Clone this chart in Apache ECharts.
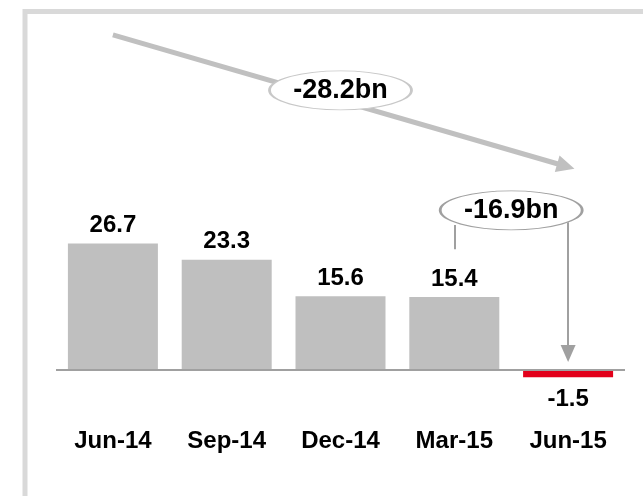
<!DOCTYPE html>
<html>
<head>
    <meta charset="utf-8" />
    <title>Change chart</title>
    <script src="https://cdn.jsdelivr.net/npm/echarts@6/dist/echarts.min.js"></script>
</head>
<body style="margin:0;background:#fff;">
    <div id="main" style="width:643px;height:496px;"></div>
    <script type="text/javascript">
        var categories = ['Jun-14', 'Sep-14', 'Dec-14', 'Mar-15', 'Jun-15'];
        var values = [26.7, 23.3, 15.6, 15.4, -1.5];

        // callout ellipses, placed in value space (x = category index)
        var calloutX = [2, 3.5];
        var calloutY = [59, 33.7];
        var calloutFrom = [0, 3];
        var calloutTo = [4, 4];

        // arrow / connector lines in value space
        var bigArrow = [[0, 70.7], [3.98, 43.0]];
        var stemLeft = [[3, 30.6], [3, 25.5]];
        var stemRight = [[4, 31.2], [4, 3.5]];

        var fontFamily = '"Liberation Sans", Arial, sans-serif';
        var grey = '#bfbfbf';
        var red = '#e2001a';

        var myChart = echarts.init(document.getElementById('main'));

        var barData = values.map(function (v) {
            return {
                value: v,
                itemStyle: { color: v < 0 ? red : grey },
                label: { position: v < 0 ? 'bottom' : 'top', distance: v < 0 ? 10 : 6 }
            };
        });

        var calloutData = calloutX.map(function (x, i) {
            var diff = values[calloutTo[i]] - values[calloutFrom[i]];
            return {
                value: [x, calloutY[i]],
                name: diff.toFixed(1) + 'bn',
                itemStyle: { borderColor: i === 0 ? '#c8c8c8' : '#a0a0a0' }
            };
        });

        var option = {
            animation: false,
            backgroundColor: '#fff',
            graphic: [{
                type: 'rect',
                z: -10,
                shape: { x: 25, y: 11.5, width: 700, height: 600 },
                style: { fill: 'none', stroke: '#d9d9d9', lineWidth: 5 }
            }],
            grid: {
                left: 56,
                right: 18,
                top: 14.5,
                bottom: 69,
                outerBoundsMode: 'none'
            },
            xAxis: [
                {
                    type: 'category',
                    data: categories,
                    axisLine: { show: false, onZero: false },
                    axisTick: { show: false },
                    axisLabel: {
                        margin: 2,
                        color: '#000',
                        fontSize: 24,
                        fontWeight: 'bold',
                        fontFamily: fontFamily
                    },
                    splitLine: { show: false }
                },
                {
                    type: 'value',
                    min: -0.5,
                    max: 4.5,
                    show: false
                }
            ],
            yAxis: {
                type: 'value',
                min: -12,
                max: 75,
                show: false,
                splitLine: { show: false }
            },
            series: [
                {
                    name: 'Value',
                    type: 'bar',
                    barWidth: 90,
                    data: barData,
                    label: {
                        show: true,
                        color: '#000',
                        fontSize: 24,
                        fontWeight: 'bold',
                        fontFamily: fontFamily
                    },
                    emphasis: { disabled: true },
                    markLine: {
                        silent: true,
                        symbol: 'none',
                        label: { show: false },
                        lineStyle: { color: '#a0a0a0', width: 2, type: 'solid' },
                        data: [{ yAxis: 0 }]
                    }
                },
                {
                    name: 'Change',
                    type: 'scatter',
                    xAxisIndex: 1,
                    z: 10,
                    symbol: 'path://M0,20 A70,20 0 1,1 140,20 A70,20 0 1,1 0,20 Z',
                    symbolSize: [142, 39],
                    itemStyle: { color: '#fff', borderWidth: 1.5, opacity: 1 },
                    label: {
                        show: true,
                        position: 'inside',
                        formatter: '{b}',
                        color: '#000',
                        fontSize: 27,
                        fontWeight: 'bold',
                        fontFamily: fontFamily
                    },
                    emphasis: { disabled: true },
                    data: calloutData,
                    markLine: {
                        silent: true,
                        z: 3,
                        label: { show: false },
                        lineStyle: { type: 'solid' },
                        data: [
                            [
                                { coord: bigArrow[0], symbol: 'none', lineStyle: { color: '#c0c0c0', width: 5, type: 'solid' } },
                                { coord: bigArrow[1], symbol: 'triangle', symbolSize: [17, 18] }
                            ],
                            [
                                { coord: stemLeft[0], symbol: 'none', lineStyle: { color: '#a0a0a0', width: 2, type: 'solid' } },
                                { coord: stemLeft[1], symbol: 'none' }
                            ],
                            [
                                { coord: stemRight[0], symbol: 'none', lineStyle: { color: '#a0a0a0', width: 2, type: 'solid' } },
                                { coord: stemRight[1], symbol: 'triangle', symbolSize: [15, 17] }
                            ]
                        ]
                    }
                }
            ]
        };

        myChart.setOption(option);
    </script>
</body>
</html>
